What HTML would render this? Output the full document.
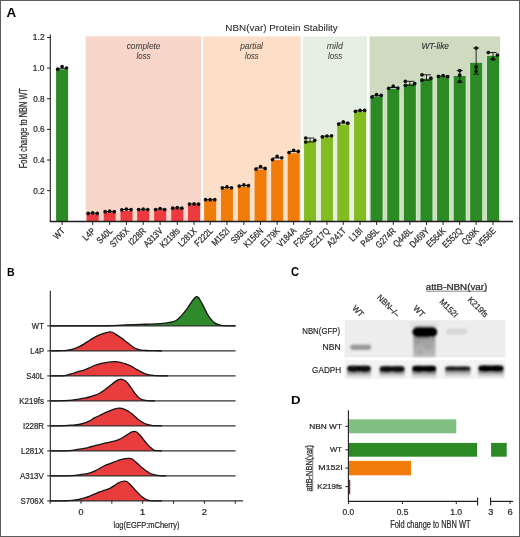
<!DOCTYPE html>
<html><head><meta charset="utf-8"><style>
html,body{margin:0;padding:0;background:#fff;}
svg{display:block;will-change:transform;font-family:"Liberation Sans", sans-serif;}
</style></head><body>
<svg width="520" height="537" viewBox="0 0 520 537">
<defs>
<filter id="blur1" x="-20%" y="-50%" width="140%" height="200%"><feGaussianBlur stdDeviation="0.8"/></filter>
<linearGradient id="smear" x1="0" y1="0" x2="0" y2="1"><stop offset="0" stop-color="#939393"/><stop offset="0.4" stop-color="#a8a8a8"/><stop offset="1" stop-color="#bababa"/></linearGradient>
<linearGradient id="tail" x1="0" y1="0" x2="0" y2="1"><stop offset="0" stop-color="#666"/><stop offset="0.5" stop-color="#bdbdbd"/><stop offset="1" stop-color="#eeeeee"/></linearGradient>
</defs>
<rect x="0" y="0" width="520" height="537" fill="#fff"/>
<rect x="85.6" y="36.4" width="115.55" height="184.9" fill="#f8d6ca" />
<rect x="203.1" y="36.4" width="97.65" height="184.9" fill="#fcdfc6" />
<rect x="302.95" y="36.4" width="64.2" height="184.9" fill="#e5f0e2" />
<rect x="369.5" y="36.4" width="130.6" height="184.9" fill="#cfdbc1" />
<text x="126.63" y="48.6" font-size="8.4" fill="#3c3c3c" stroke="#3c3c3c" stroke-width="0.05" font-style="italic" textLength="33.88" lengthAdjust="spacingAndGlyphs" >complete</text>
<text x="136.57" y="58.6" font-size="8.4" fill="#3c3c3c" stroke="#3c3c3c" stroke-width="0.05" font-style="italic" textLength="14.09" lengthAdjust="spacingAndGlyphs" >loss</text>
<text x="240.21" y="48.5" font-size="8.4" fill="#3c3c3c" stroke="#3c3c3c" stroke-width="0.05" font-style="italic" textLength="22.71" lengthAdjust="spacingAndGlyphs" >partial</text>
<text x="245.08" y="58.5" font-size="8.4" fill="#3c3c3c" stroke="#3c3c3c" stroke-width="0.05" font-style="italic" textLength="13.58" lengthAdjust="spacingAndGlyphs" >loss</text>
<text x="326.75" y="48.7" font-size="8.4" fill="#3c3c3c" stroke="#3c3c3c" stroke-width="0.05" font-style="italic" textLength="16.11" lengthAdjust="spacingAndGlyphs" >mild</text>
<text x="327.97" y="58.7" font-size="8.4" fill="#3c3c3c" stroke="#3c3c3c" stroke-width="0.05" font-style="italic" textLength="14.4" lengthAdjust="spacingAndGlyphs" >loss</text>
<text x="421.5" y="48.5" font-size="8.4" fill="#2a2a2a" stroke="#2a2a2a" stroke-width="0.1" font-style="italic" textLength="27.5" lengthAdjust="spacingAndGlyphs" >WT-like</text>
<text x="225.39" y="30.6" font-size="9.7" fill="#1e1e1e" stroke="#1e1e1e" stroke-width="0.05" textLength="112.43" lengthAdjust="spacingAndGlyphs" >NBN(var) Protein Stability</text>
<rect x="56.1" y="69.5" width="12" height="151.8" fill="#2b8a24" />
<rect x="85.6" y="215.8" width="14.2" height="5.5" fill="#fbd4cd" />
<rect x="102.6" y="213.9" width="14.2" height="7.4" fill="#fbd4cd" />
<rect x="119.35" y="212.5" width="14.2" height="8.8" fill="#fbd4cd" />
<rect x="136.1" y="211.9" width="14.2" height="9.4" fill="#fbd4cd" />
<rect x="153.05" y="211.6" width="14.2" height="9.7" fill="#fbd4cd" />
<rect x="170.15" y="210.4" width="14.2" height="10.9" fill="#fbd4cd" />
<rect x="186.95" y="206.4" width="14.2" height="14.9" fill="#fbd4cd" />
<rect x="203.1" y="201.9" width="14.2" height="19.4" fill="#fee6cf" />
<rect x="219.85" y="190.1" width="14.2" height="31.2" fill="#fee6cf" />
<rect x="236.75" y="188.2" width="14.2" height="33.1" fill="#fee6cf" />
<rect x="253.45" y="171.1" width="14.2" height="50.2" fill="#fee6cf" />
<rect x="270.05" y="161.6" width="14.2" height="59.7" fill="#fee6cf" />
<rect x="286.55" y="154.7" width="14.2" height="66.6" fill="#fee6cf" />
<rect x="302.95" y="142.2" width="14.2" height="79.1" fill="#eaf3dc" />
<rect x="319.85" y="138.8" width="14.2" height="82.5" fill="#eaf3dc" />
<rect x="336.15" y="126" width="14.2" height="95.3" fill="#eaf3dc" />
<rect x="352.95" y="113.2" width="14.2" height="108.1" fill="#eaf3dc" />
<rect x="369.5" y="98.3" width="14.2" height="123" fill="#d3e8cb" />
<rect x="386.15" y="90.4" width="14.2" height="130.9" fill="#d3e8cb" />
<rect x="402.76" y="85.7" width="14.2" height="135.6" fill="#d3e8cb" />
<rect x="419.37" y="80.3" width="14.2" height="141" fill="#d3e8cb" />
<rect x="435.98" y="78.5" width="14.2" height="142.8" fill="#d3e8cb" />
<rect x="452.6" y="77.5" width="14.2" height="143.8" fill="#d3e8cb" />
<rect x="469.05" y="64.3" width="14.2" height="157" fill="#d3e8cb" />
<rect x="485.9" y="57.4" width="14.2" height="163.9" fill="#d3e8cb" />
<rect x="86.7" y="214.3" width="12" height="7" fill="#ec3a3e" />
<rect x="103.7" y="212.4" width="12" height="8.9" fill="#ec3a3e" />
<rect x="120.45" y="211" width="12" height="10.3" fill="#ec3a3e" />
<rect x="137.2" y="210.4" width="12" height="10.9" fill="#ec3a3e" />
<rect x="154.15" y="210.1" width="12" height="11.2" fill="#ec3a3e" />
<rect x="171.25" y="208.9" width="12" height="12.4" fill="#ec3a3e" />
<rect x="188.05" y="204.9" width="12" height="16.4" fill="#ec3a3e" />
<rect x="204.2" y="200.4" width="12" height="20.9" fill="#f17c0a" />
<rect x="220.95" y="188.6" width="12" height="32.7" fill="#f17c0a" />
<rect x="237.85" y="186.7" width="12" height="34.6" fill="#f17c0a" />
<rect x="254.55" y="169.6" width="12" height="51.7" fill="#f17c0a" />
<rect x="271.15" y="160.1" width="12" height="61.2" fill="#f17c0a" />
<rect x="287.65" y="153.2" width="12" height="68.1" fill="#f17c0a" />
<rect x="304.05" y="140.7" width="12" height="80.6" fill="#85bb22" />
<rect x="320.95" y="137.3" width="12" height="84" fill="#85bb22" />
<rect x="337.25" y="124.5" width="12" height="96.8" fill="#85bb22" />
<rect x="354.05" y="111.7" width="12" height="109.6" fill="#85bb22" />
<rect x="370.6" y="96.8" width="12" height="124.5" fill="#2b8a24" />
<rect x="387.25" y="88.9" width="12" height="132.4" fill="#2b8a24" />
<rect x="403.86" y="84.2" width="12" height="137.1" fill="#2b8a24" />
<rect x="420.47" y="78.8" width="12" height="142.5" fill="#2b8a24" />
<rect x="437.08" y="77" width="12" height="144.3" fill="#2b8a24" />
<rect x="453.7" y="76" width="12" height="145.3" fill="#2b8a24" />
<rect x="470.15" y="62.8" width="12" height="158.5" fill="#2b8a24" />
<rect x="487" y="55.9" width="12" height="165.4" fill="#2b8a24" />
<line x1="57.7" y1="68.7" x2="66.5" y2="68.7" stroke="#111" stroke-width="1" />
<circle cx="57.7" cy="69.2" r="1.85" fill="#111"/>
<circle cx="62.1" cy="66.5" r="1.85" fill="#111"/>
<circle cx="66.5" cy="68" r="1.85" fill="#111"/>
<line x1="88.1" y1="213.23" x2="97.3" y2="213.23" stroke="#111" stroke-width="1" />
<circle cx="88.1" cy="213.4" r="1.85" fill="#111"/>
<circle cx="92.7" cy="212.9" r="1.85" fill="#111"/>
<circle cx="97.3" cy="213.4" r="1.85" fill="#111"/>
<line x1="105.1" y1="211.53" x2="114.3" y2="211.53" stroke="#111" stroke-width="1" />
<circle cx="105.1" cy="211.7" r="1.85" fill="#111"/>
<circle cx="109.7" cy="211.2" r="1.85" fill="#111"/>
<circle cx="114.3" cy="211.7" r="1.85" fill="#111"/>
<line x1="121.85" y1="209.5" x2="131.05" y2="209.5" stroke="#111" stroke-width="1" />
<circle cx="121.85" cy="209.8" r="1.85" fill="#111"/>
<circle cx="126.45" cy="209.1" r="1.85" fill="#111"/>
<circle cx="131.05" cy="209.6" r="1.85" fill="#111"/>
<line x1="138.6" y1="209.4" x2="147.8" y2="209.4" stroke="#111" stroke-width="1" />
<circle cx="138.6" cy="209.5" r="1.85" fill="#111"/>
<circle cx="143.2" cy="209.2" r="1.85" fill="#111"/>
<circle cx="147.8" cy="209.5" r="1.85" fill="#111"/>
<line x1="155.55" y1="209.17" x2="164.75" y2="209.17" stroke="#111" stroke-width="1" />
<circle cx="155.55" cy="209.5" r="1.85" fill="#111"/>
<circle cx="160.15" cy="208.5" r="1.85" fill="#111"/>
<circle cx="164.75" cy="209.5" r="1.85" fill="#111"/>
<line x1="172.65" y1="208.03" x2="181.85" y2="208.03" stroke="#111" stroke-width="1" />
<circle cx="172.65" cy="208.2" r="1.85" fill="#111"/>
<circle cx="177.25" cy="207.7" r="1.85" fill="#111"/>
<circle cx="181.85" cy="208.2" r="1.85" fill="#111"/>
<line x1="189.45" y1="204.03" x2="198.65" y2="204.03" stroke="#111" stroke-width="1" />
<circle cx="189.45" cy="204.1" r="1.85" fill="#111"/>
<circle cx="194.05" cy="203.9" r="1.85" fill="#111"/>
<circle cx="198.65" cy="204.1" r="1.85" fill="#111"/>
<line x1="205.6" y1="199.7" x2="214.8" y2="199.7" stroke="#111" stroke-width="1" />
<circle cx="205.6" cy="199.7" r="1.85" fill="#111"/>
<circle cx="210.2" cy="199.7" r="1.85" fill="#111"/>
<circle cx="214.8" cy="199.7" r="1.85" fill="#111"/>
<line x1="222.35" y1="187.5" x2="231.55" y2="187.5" stroke="#111" stroke-width="1" />
<circle cx="222.35" cy="187.8" r="1.85" fill="#111"/>
<circle cx="226.95" cy="186.9" r="1.85" fill="#111"/>
<circle cx="231.55" cy="187.8" r="1.85" fill="#111"/>
<line x1="239.25" y1="185.53" x2="248.45" y2="185.53" stroke="#111" stroke-width="1" />
<circle cx="239.25" cy="186.1" r="1.85" fill="#111"/>
<circle cx="243.85" cy="184.9" r="1.85" fill="#111"/>
<circle cx="248.45" cy="185.6" r="1.85" fill="#111"/>
<line x1="255.95" y1="168" x2="265.15" y2="168" stroke="#111" stroke-width="1" />
<circle cx="255.95" cy="169.1" r="1.85" fill="#111"/>
<circle cx="260.55" cy="166.5" r="1.85" fill="#111"/>
<circle cx="265.15" cy="168.4" r="1.85" fill="#111"/>
<line x1="272.55" y1="157.93" x2="281.75" y2="157.93" stroke="#111" stroke-width="1" />
<circle cx="272.55" cy="159.6" r="1.85" fill="#111"/>
<circle cx="277.15" cy="156.4" r="1.85" fill="#111"/>
<circle cx="281.75" cy="157.8" r="1.85" fill="#111"/>
<line x1="289.05" y1="151.43" x2="298.25" y2="151.43" stroke="#111" stroke-width="1" />
<circle cx="289.05" cy="152.5" r="1.85" fill="#111"/>
<circle cx="293.65" cy="150.4" r="1.85" fill="#111"/>
<circle cx="298.25" cy="151.4" r="1.85" fill="#111"/>
<line x1="305.75" y1="138" x2="314.35" y2="138" stroke="#111" stroke-width="0.9" />
<line x1="305.75" y1="142" x2="314.35" y2="142" stroke="#111" stroke-width="0.9" />
<line x1="310.05" y1="138" x2="310.05" y2="142" stroke="#111" stroke-width="0.9" />
<circle cx="305.75" cy="138" r="1.85" fill="#111"/>
<circle cx="305.75" cy="142" r="1.85" fill="#111"/>
<circle cx="314.75" cy="140.3" r="1.85" fill="#111"/>
<line x1="322.35" y1="136.2" x2="331.55" y2="136.2" stroke="#111" stroke-width="1" />
<circle cx="322.35" cy="136.8" r="1.85" fill="#111"/>
<circle cx="326.95" cy="136" r="1.85" fill="#111"/>
<circle cx="331.55" cy="135.8" r="1.85" fill="#111"/>
<line x1="338.65" y1="123.03" x2="347.85" y2="123.03" stroke="#111" stroke-width="1" />
<circle cx="338.65" cy="124.1" r="1.85" fill="#111"/>
<circle cx="343.25" cy="121.8" r="1.85" fill="#111"/>
<circle cx="347.85" cy="123.2" r="1.85" fill="#111"/>
<line x1="355.45" y1="110.7" x2="364.65" y2="110.7" stroke="#111" stroke-width="1" />
<circle cx="355.45" cy="111.3" r="1.85" fill="#111"/>
<circle cx="360.05" cy="110.4" r="1.85" fill="#111"/>
<circle cx="364.65" cy="110.4" r="1.85" fill="#111"/>
<line x1="372" y1="95.7" x2="381.2" y2="95.7" stroke="#111" stroke-width="1" />
<circle cx="372" cy="97" r="1.85" fill="#111"/>
<circle cx="376.6" cy="94.7" r="1.85" fill="#111"/>
<circle cx="381.2" cy="95.4" r="1.85" fill="#111"/>
<line x1="388.65" y1="87.5" x2="397.85" y2="87.5" stroke="#111" stroke-width="1" />
<circle cx="388.65" cy="88.3" r="1.85" fill="#111"/>
<circle cx="393.25" cy="86.2" r="1.85" fill="#111"/>
<circle cx="397.85" cy="88" r="1.85" fill="#111"/>
<line x1="405.36" y1="81.3" x2="414.36" y2="81.3" stroke="#111" stroke-width="0.9" />
<line x1="405.36" y1="85.3" x2="414.36" y2="85.3" stroke="#111" stroke-width="0.9" />
<line x1="409.86" y1="81.3" x2="409.86" y2="85.3" stroke="#111" stroke-width="0.9" />
<circle cx="405.36" cy="81.3" r="1.85" fill="#111"/>
<circle cx="405.36" cy="85.3" r="1.85" fill="#111"/>
<circle cx="414.66" cy="83.6" r="1.85" fill="#111"/>
<line x1="421.97" y1="74.8" x2="430.97" y2="74.8" stroke="#111" stroke-width="0.9" />
<line x1="421.97" y1="80.2" x2="430.97" y2="80.2" stroke="#111" stroke-width="0.9" />
<line x1="426.47" y1="74.8" x2="426.47" y2="80.2" stroke="#111" stroke-width="0.9" />
<circle cx="421.97" cy="74.8" r="1.85" fill="#111"/>
<circle cx="421.97" cy="80.2" r="1.85" fill="#111"/>
<circle cx="430.87" cy="78.2" r="1.85" fill="#111"/>
<line x1="438.48" y1="76.2" x2="447.68" y2="76.2" stroke="#111" stroke-width="1" />
<circle cx="438.48" cy="76.4" r="1.85" fill="#111"/>
<circle cx="443.08" cy="75.5" r="1.85" fill="#111"/>
<circle cx="447.68" cy="76.7" r="1.85" fill="#111"/>
<line x1="459.7" y1="70.6" x2="459.7" y2="82.2" stroke="#111" stroke-width="0.9" />
<line x1="456.7" y1="70.6" x2="462.7" y2="70.6" stroke="#111" stroke-width="0.9" />
<line x1="456.7" y1="82.2" x2="462.7" y2="82.2" stroke="#111" stroke-width="0.9" />
<circle cx="459.7" cy="70.6" r="1.85" fill="#111"/>
<circle cx="459.7" cy="75.2" r="1.85" fill="#111"/>
<circle cx="459.7" cy="81.5" r="1.85" fill="#111"/>
<line x1="476.15" y1="48" x2="476.15" y2="74.1" stroke="#111" stroke-width="0.9" />
<line x1="473.15" y1="48" x2="479.15" y2="48" stroke="#111" stroke-width="0.9" />
<line x1="473.15" y1="74.1" x2="479.15" y2="74.1" stroke="#111" stroke-width="0.9" />
<circle cx="476.15" cy="48" r="1.85" fill="#111"/>
<circle cx="476.15" cy="66.9" r="1.85" fill="#111"/>
<circle cx="476.15" cy="71.2" r="1.85" fill="#111"/>
<line x1="493" y1="52.5" x2="493" y2="59.6" stroke="#111" stroke-width="0.9" />
<line x1="489.5" y1="52.5" x2="496.5" y2="52.5" stroke="#111" stroke-width="0.9" />
<line x1="490" y1="59.6" x2="496" y2="59.6" stroke="#111" stroke-width="0.9" />
<circle cx="488.3" cy="52.5" r="1.85" fill="#111"/>
<circle cx="497.4" cy="55" r="1.85" fill="#111"/>
<circle cx="493" cy="59" r="1.85" fill="#111"/>
<line x1="50.3" y1="34.6" x2="50.3" y2="221.8" stroke="#1e1e1e" stroke-width="1.1" />
<line x1="49.8" y1="221.5" x2="513" y2="221.5" stroke="#1e1e1e" stroke-width="1.4" />
<line x1="47.1" y1="37.46" x2="50.3" y2="37.46" stroke="#1e1e1e" stroke-width="1" />
<text x="32.86" y="40.46" font-size="8.88" fill="#2a2a2a" stroke="#2a2a2a" stroke-width="0.24" textLength="11.77" lengthAdjust="spacingAndGlyphs" >1.2</text>
<line x1="47.1" y1="68.1" x2="50.3" y2="68.1" stroke="#1e1e1e" stroke-width="1" />
<text x="32.86" y="71.1" font-size="8.88" fill="#2a2a2a" stroke="#2a2a2a" stroke-width="0.24" textLength="11.67" lengthAdjust="spacingAndGlyphs" >1.0</text>
<line x1="47.1" y1="98.74" x2="50.3" y2="98.74" stroke="#1e1e1e" stroke-width="1" />
<text x="33.18" y="101.74" font-size="8.88" fill="#2a2a2a" stroke="#2a2a2a" stroke-width="0.24" textLength="11.38" lengthAdjust="spacingAndGlyphs" >0.8</text>
<line x1="47.1" y1="129.38" x2="50.3" y2="129.38" stroke="#1e1e1e" stroke-width="1" />
<text x="33.18" y="132.38" font-size="8.88" fill="#2a2a2a" stroke="#2a2a2a" stroke-width="0.24" textLength="11.38" lengthAdjust="spacingAndGlyphs" >0.6</text>
<line x1="47.1" y1="160.02" x2="50.3" y2="160.02" stroke="#1e1e1e" stroke-width="1" />
<text x="33.18" y="163.02" font-size="8.88" fill="#2a2a2a" stroke="#2a2a2a" stroke-width="0.24" textLength="11.25" lengthAdjust="spacingAndGlyphs" >0.4</text>
<line x1="47.1" y1="190.66" x2="50.3" y2="190.66" stroke="#1e1e1e" stroke-width="1" />
<text x="33.18" y="193.66" font-size="8.88" fill="#2a2a2a" stroke="#2a2a2a" stroke-width="0.24" textLength="11.44" lengthAdjust="spacingAndGlyphs" >0.2</text>
<line x1="62.1" y1="221.3" x2="62.1" y2="224.9" stroke="#1e1e1e" stroke-width="1" />
<text x="0" y="0" font-size="9.2" fill="#2a2a2a" stroke="#2a2a2a" stroke-width="0.24" text-anchor="end" textLength="11.96" lengthAdjust="spacingAndGlyphs" transform="translate(65.4 231.5) rotate(-45)" >WT</text>
<line x1="92.7" y1="221.3" x2="92.7" y2="224.9" stroke="#1e1e1e" stroke-width="1" />
<text x="0" y="0" font-size="9.2" fill="#2a2a2a" stroke="#2a2a2a" stroke-width="0.24" text-anchor="end" textLength="13.69" lengthAdjust="spacingAndGlyphs" transform="translate(96 231.5) rotate(-45)" >L4P</text>
<line x1="109.7" y1="221.3" x2="109.7" y2="224.9" stroke="#1e1e1e" stroke-width="1" />
<text x="0" y="0" font-size="9.2" fill="#2a2a2a" stroke="#2a2a2a" stroke-width="0.24" text-anchor="end" textLength="17.96" lengthAdjust="spacingAndGlyphs" transform="translate(113 231.5) rotate(-45)" >S40L</text>
<line x1="126.45" y1="221.3" x2="126.45" y2="224.9" stroke="#1e1e1e" stroke-width="1" />
<text x="0" y="0" font-size="9.2" fill="#2a2a2a" stroke="#2a2a2a" stroke-width="0.24" text-anchor="end" textLength="23.09" lengthAdjust="spacingAndGlyphs" transform="translate(129.75 231.5) rotate(-45)" >S706X</text>
<line x1="143.2" y1="221.3" x2="143.2" y2="224.9" stroke="#1e1e1e" stroke-width="1" />
<text x="0" y="0" font-size="9.2" fill="#2a2a2a" stroke="#2a2a2a" stroke-width="0.24" text-anchor="end" textLength="20.53" lengthAdjust="spacingAndGlyphs" transform="translate(146.5 231.5) rotate(-45)" >I228R</text>
<line x1="160.15" y1="221.3" x2="160.15" y2="224.9" stroke="#1e1e1e" stroke-width="1" />
<text x="0" y="0" font-size="9.2" fill="#2a2a2a" stroke="#2a2a2a" stroke-width="0.24" text-anchor="end" textLength="23.09" lengthAdjust="spacingAndGlyphs" transform="translate(163.45 231.5) rotate(-45)" >A313V</text>
<line x1="177.25" y1="221.3" x2="177.25" y2="224.9" stroke="#1e1e1e" stroke-width="1" />
<text x="0" y="0" font-size="9.2" fill="#2a2a2a" stroke="#2a2a2a" stroke-width="0.24" text-anchor="end" textLength="23.95" lengthAdjust="spacingAndGlyphs" transform="translate(180.55 231.5) rotate(-45)" >K219fs</text>
<line x1="194.05" y1="221.3" x2="194.05" y2="224.9" stroke="#1e1e1e" stroke-width="1" />
<text x="0" y="0" font-size="9.2" fill="#2a2a2a" stroke="#2a2a2a" stroke-width="0.24" text-anchor="end" textLength="22.24" lengthAdjust="spacingAndGlyphs" transform="translate(197.35 231.5) rotate(-45)" >L281X</text>
<line x1="210.2" y1="221.3" x2="210.2" y2="224.9" stroke="#1e1e1e" stroke-width="1" />
<text x="0" y="0" font-size="9.2" fill="#2a2a2a" stroke="#2a2a2a" stroke-width="0.24" text-anchor="end" textLength="21.81" lengthAdjust="spacingAndGlyphs" transform="translate(213.5 231.5) rotate(-45)" >F222L</text>
<line x1="226.95" y1="221.3" x2="226.95" y2="224.9" stroke="#1e1e1e" stroke-width="1" />
<text x="0" y="0" font-size="9.2" fill="#2a2a2a" stroke="#2a2a2a" stroke-width="0.24" text-anchor="end" textLength="21.38" lengthAdjust="spacingAndGlyphs" transform="translate(230.25 231.5) rotate(-45)" >M152I</text>
<line x1="243.85" y1="221.3" x2="243.85" y2="224.9" stroke="#1e1e1e" stroke-width="1" />
<text x="0" y="0" font-size="9.2" fill="#2a2a2a" stroke="#2a2a2a" stroke-width="0.24" text-anchor="end" textLength="17.96" lengthAdjust="spacingAndGlyphs" transform="translate(247.15 231.5) rotate(-45)" >S93L</text>
<line x1="260.55" y1="221.3" x2="260.55" y2="224.9" stroke="#1e1e1e" stroke-width="1" />
<text x="0" y="0" font-size="9.2" fill="#2a2a2a" stroke="#2a2a2a" stroke-width="0.24" text-anchor="end" textLength="23.52" lengthAdjust="spacingAndGlyphs" transform="translate(263.85 231.5) rotate(-45)" >K156N</text>
<line x1="277.15" y1="221.3" x2="277.15" y2="224.9" stroke="#1e1e1e" stroke-width="1" />
<text x="0" y="0" font-size="9.2" fill="#2a2a2a" stroke="#2a2a2a" stroke-width="0.24" text-anchor="end" textLength="23.09" lengthAdjust="spacingAndGlyphs" transform="translate(280.45 231.5) rotate(-45)" >E179K</text>
<line x1="293.65" y1="221.3" x2="293.65" y2="224.9" stroke="#1e1e1e" stroke-width="1" />
<text x="0" y="0" font-size="9.2" fill="#2a2a2a" stroke="#2a2a2a" stroke-width="0.24" text-anchor="end" textLength="23.09" lengthAdjust="spacingAndGlyphs" transform="translate(296.95 231.5) rotate(-45)" >V184A</text>
<line x1="310.05" y1="221.3" x2="310.05" y2="224.9" stroke="#1e1e1e" stroke-width="1" />
<text x="0" y="0" font-size="9.2" fill="#2a2a2a" stroke="#2a2a2a" stroke-width="0.24" text-anchor="end" textLength="22.66" lengthAdjust="spacingAndGlyphs" transform="translate(313.35 231.5) rotate(-45)" >F263S</text>
<line x1="326.95" y1="221.3" x2="326.95" y2="224.9" stroke="#1e1e1e" stroke-width="1" />
<text x="0" y="0" font-size="9.2" fill="#2a2a2a" stroke="#2a2a2a" stroke-width="0.24" text-anchor="end" textLength="23.95" lengthAdjust="spacingAndGlyphs" transform="translate(330.25 231.5) rotate(-45)" >E217Q</text>
<line x1="343.25" y1="221.3" x2="343.25" y2="224.9" stroke="#1e1e1e" stroke-width="1" />
<text x="0" y="0" font-size="9.2" fill="#2a2a2a" stroke="#2a2a2a" stroke-width="0.24" text-anchor="end" textLength="22.66" lengthAdjust="spacingAndGlyphs" transform="translate(346.55 231.5) rotate(-45)" >A241T</text>
<line x1="360.05" y1="221.3" x2="360.05" y2="224.9" stroke="#1e1e1e" stroke-width="1" />
<text x="0" y="0" font-size="9.2" fill="#2a2a2a" stroke="#2a2a2a" stroke-width="0.24" text-anchor="end" textLength="14.97" lengthAdjust="spacingAndGlyphs" transform="translate(363.35 231.5) rotate(-45)" >L18I</text>
<line x1="376.6" y1="221.3" x2="376.6" y2="224.9" stroke="#1e1e1e" stroke-width="1" />
<text x="0" y="0" font-size="9.2" fill="#2a2a2a" stroke="#2a2a2a" stroke-width="0.24" text-anchor="end" textLength="22.24" lengthAdjust="spacingAndGlyphs" transform="translate(379.9 231.5) rotate(-45)" >P495L</text>
<line x1="393.25" y1="221.3" x2="393.25" y2="224.9" stroke="#1e1e1e" stroke-width="1" />
<text x="0" y="0" font-size="9.2" fill="#2a2a2a" stroke="#2a2a2a" stroke-width="0.24" text-anchor="end" textLength="24.37" lengthAdjust="spacingAndGlyphs" transform="translate(396.55 231.5) rotate(-45)" >G274R</text>
<line x1="409.86" y1="221.3" x2="409.86" y2="224.9" stroke="#1e1e1e" stroke-width="1" />
<text x="0" y="0" font-size="9.2" fill="#2a2a2a" stroke="#2a2a2a" stroke-width="0.24" text-anchor="end" textLength="23.09" lengthAdjust="spacingAndGlyphs" transform="translate(413.16 231.5) rotate(-45)" >Q448L</text>
<line x1="426.47" y1="221.3" x2="426.47" y2="224.9" stroke="#1e1e1e" stroke-width="1" />
<text x="0" y="0" font-size="9.2" fill="#2a2a2a" stroke="#2a2a2a" stroke-width="0.24" text-anchor="end" textLength="23.52" lengthAdjust="spacingAndGlyphs" transform="translate(429.77 231.5) rotate(-45)" >D469Y</text>
<line x1="443.08" y1="221.3" x2="443.08" y2="224.9" stroke="#1e1e1e" stroke-width="1" />
<text x="0" y="0" font-size="9.2" fill="#2a2a2a" stroke="#2a2a2a" stroke-width="0.24" text-anchor="end" textLength="23.09" lengthAdjust="spacingAndGlyphs" transform="translate(446.38 231.5) rotate(-45)" >E564K</text>
<line x1="459.7" y1="221.3" x2="459.7" y2="224.9" stroke="#1e1e1e" stroke-width="1" />
<text x="0" y="0" font-size="9.2" fill="#2a2a2a" stroke="#2a2a2a" stroke-width="0.24" text-anchor="end" textLength="23.95" lengthAdjust="spacingAndGlyphs" transform="translate(463 231.5) rotate(-45)" >E552Q</text>
<line x1="476.15" y1="221.3" x2="476.15" y2="224.9" stroke="#1e1e1e" stroke-width="1" />
<text x="0" y="0" font-size="9.2" fill="#2a2a2a" stroke="#2a2a2a" stroke-width="0.24" text-anchor="end" textLength="19.67" lengthAdjust="spacingAndGlyphs" transform="translate(479.45 231.5) rotate(-45)" >Q39K</text>
<line x1="493" y1="221.3" x2="493" y2="224.9" stroke="#1e1e1e" stroke-width="1" />
<text x="0" y="0" font-size="9.2" fill="#2a2a2a" stroke="#2a2a2a" stroke-width="0.24" text-anchor="end" textLength="23.09" lengthAdjust="spacingAndGlyphs" transform="translate(496.3 231.5) rotate(-45)" >V556E</text>
<text x="-0.61" y="0" font-size="10.3" fill="#2a2a2a" stroke="#2a2a2a" stroke-width="0.24" textLength="80.08" lengthAdjust="spacingAndGlyphs" transform="translate(27.2 167.6) rotate(-90)" >Fold change to NBN WT</text>
<text x="6.47" y="16.7" font-size="12.5" fill="#000" font-weight="bold" textLength="9.69" lengthAdjust="spacingAndGlyphs" >A</text>
<text x="7.09" y="275.5" font-size="11.19" fill="#000" font-weight="bold" textLength="7.7" lengthAdjust="spacingAndGlyphs" >B</text>
<text x="291.04" y="275.6" font-size="11.92" fill="#000" font-weight="bold" textLength="8.06" lengthAdjust="spacingAndGlyphs" >C</text>
<text x="291.02" y="403.5" font-size="11.77" fill="#000" font-weight="bold" textLength="9.54" lengthAdjust="spacingAndGlyphs" >D</text>
<path d="M50.3,325.9 C58.58,325.88 90.05,325.84 100,325.8 C109.95,325.76 105.83,325.8 110,325.65 C114.17,325.5 120,325.11 125,324.9 C130,324.69 135,324.57 140,324.4 C145,324.23 150.83,324.11 155,323.9 C159.17,323.69 162.08,323.48 165,323.15 C167.92,322.82 170.42,322.52 172.5,321.9 C174.58,321.27 175.83,320.65 177.5,319.4 C179.17,318.15 180.83,316.27 182.5,314.4 C184.17,312.52 185.83,310.44 187.5,308.15 C189.17,305.86 191.02,302.56 192.5,300.65 C193.98,298.74 195.33,297.12 196.4,296.7 C197.47,296.27 197.88,296.82 198.9,298.1 C199.92,299.38 201.28,302.1 202.5,304.4 C203.72,306.7 205,309.61 206.25,311.9 C207.5,314.19 208.54,316.27 210,318.15 C211.46,320.02 213.33,321.98 215,323.15 C216.67,324.32 217.92,324.69 220,325.15 C222.08,325.61 224.9,325.77 227.5,325.9 C230.1,326.02 234.25,325.9 235.6,325.9 L235.6,325.9 L50.3,325.9 Z" fill="#2e8a2a"/>
<line x1="50.3" y1="325.9" x2="235.6" y2="325.9" stroke="#333" stroke-width="1.1" />
<path d="M50.3,325.9 C58.58,325.88 90.05,325.84 100,325.8 C109.95,325.76 105.83,325.8 110,325.65 C114.17,325.5 120,325.11 125,324.9 C130,324.69 135,324.57 140,324.4 C145,324.23 150.83,324.11 155,323.9 C159.17,323.69 162.08,323.48 165,323.15 C167.92,322.82 170.42,322.52 172.5,321.9 C174.58,321.27 175.83,320.65 177.5,319.4 C179.17,318.15 180.83,316.27 182.5,314.4 C184.17,312.52 185.83,310.44 187.5,308.15 C189.17,305.86 191.02,302.56 192.5,300.65 C193.98,298.74 195.33,297.12 196.4,296.7 C197.47,296.27 197.88,296.82 198.9,298.1 C199.92,299.38 201.28,302.1 202.5,304.4 C203.72,306.7 205,309.61 206.25,311.9 C207.5,314.19 208.54,316.27 210,318.15 C211.46,320.02 213.33,321.98 215,323.15 C216.67,324.32 217.92,324.69 220,325.15 C222.08,325.61 224.9,325.77 227.5,325.9 C230.1,326.02 234.25,325.9 235.6,325.9" fill="none" stroke="#151515" stroke-width="1.3"/>
<line x1="47.2" y1="325.9" x2="50.3" y2="325.9" stroke="#1e1e1e" stroke-width="1" />
<text x="31.87" y="329" font-size="9.01" fill="#2a2a2a" stroke="#2a2a2a" stroke-width="0.24" textLength="12.01" lengthAdjust="spacingAndGlyphs" >WT</text>
<path d="M50.3,350.9 C51.58,350.88 55.55,350.81 58,350.75 C60.45,350.69 62.68,350.76 65,350.55 C67.32,350.34 69.6,350.11 71.9,349.5 C74.2,348.89 76.78,347.82 78.8,346.9 C80.82,345.98 82.27,345.07 84,344 C85.73,342.93 87.47,341.6 89.2,340.5 C90.93,339.4 92.67,338.35 94.4,337.4 C96.13,336.45 97.87,335.52 99.6,334.8 C101.33,334.08 102.93,333.58 104.8,333.1 C106.67,332.62 109.07,331.77 110.8,331.9 C112.53,332.03 113.6,332.98 115.2,333.9 C116.8,334.82 118.67,336.18 120.4,337.4 C122.13,338.62 123.88,339.9 125.6,341.2 C127.32,342.5 128.98,343.96 130.7,345.2 C132.42,346.44 134.17,347.84 135.9,348.65 C137.63,349.46 139.08,349.73 141.1,350.05 C143.12,350.37 145.68,350.44 148,350.55 C150.32,350.66 152.67,350.64 155,350.7 C157.33,350.76 160.83,350.87 162,350.9 L162,350.9 L50.3,350.9 Z" fill="#e93c3c"/>
<line x1="50.3" y1="350.9" x2="235.6" y2="350.9" stroke="#333" stroke-width="1.1" />
<path d="M50.3,350.9 C51.58,350.88 55.55,350.81 58,350.75 C60.45,350.69 62.68,350.76 65,350.55 C67.32,350.34 69.6,350.11 71.9,349.5 C74.2,348.89 76.78,347.82 78.8,346.9 C80.82,345.98 82.27,345.07 84,344 C85.73,342.93 87.47,341.6 89.2,340.5 C90.93,339.4 92.67,338.35 94.4,337.4 C96.13,336.45 97.87,335.52 99.6,334.8 C101.33,334.08 102.93,333.58 104.8,333.1 C106.67,332.62 109.07,331.77 110.8,331.9 C112.53,332.03 113.6,332.98 115.2,333.9 C116.8,334.82 118.67,336.18 120.4,337.4 C122.13,338.62 123.88,339.9 125.6,341.2 C127.32,342.5 128.98,343.96 130.7,345.2 C132.42,346.44 134.17,347.84 135.9,348.65 C137.63,349.46 139.08,349.73 141.1,350.05 C143.12,350.37 145.68,350.44 148,350.55 C150.32,350.66 152.67,350.64 155,350.7 C157.33,350.76 160.83,350.87 162,350.9" fill="none" stroke="#151515" stroke-width="1.3"/>
<line x1="47.2" y1="350.9" x2="50.3" y2="350.9" stroke="#1e1e1e" stroke-width="1" />
<text x="30.37" y="354" font-size="9.01" fill="#2a2a2a" stroke="#2a2a2a" stroke-width="0.24" textLength="13.74" lengthAdjust="spacingAndGlyphs" >L4P</text>
<path d="M50.3,375.9 C51.58,375.88 55.55,375.86 58,375.8 C60.45,375.74 62.68,375.91 65,375.55 C67.32,375.19 69.6,374.34 71.9,373.65 C74.2,372.96 76.78,371.97 78.8,371.4 C80.82,370.82 82.27,370.78 84,370.2 C85.73,369.62 87.47,368.68 89.2,367.9 C90.93,367.12 92.67,366.18 94.4,365.5 C96.13,364.82 97.87,364.25 99.6,363.8 C101.33,363.35 102.93,363.12 104.8,362.8 C106.67,362.48 109.07,362.08 110.8,361.9 C112.53,361.72 113.6,361.62 115.2,361.7 C116.8,361.78 118.67,362.05 120.4,362.4 C122.13,362.75 123.88,363.22 125.6,363.8 C127.32,364.38 128.98,365.03 130.7,365.9 C132.42,366.77 134.17,368 135.9,369 C137.63,370 139.37,371.03 141.1,371.9 C142.83,372.77 144.57,373.65 146.3,374.2 C148.03,374.75 150.05,374.98 151.5,375.2 C152.95,375.42 153.25,375.45 155,375.55 C156.75,375.65 159.83,375.74 162,375.8 C164.17,375.86 167,375.88 168,375.9 L168,375.9 L50.3,375.9 Z" fill="#e93c3c"/>
<line x1="50.3" y1="375.9" x2="235.6" y2="375.9" stroke="#333" stroke-width="1.1" />
<path d="M50.3,375.9 C51.58,375.88 55.55,375.86 58,375.8 C60.45,375.74 62.68,375.91 65,375.55 C67.32,375.19 69.6,374.34 71.9,373.65 C74.2,372.96 76.78,371.97 78.8,371.4 C80.82,370.82 82.27,370.78 84,370.2 C85.73,369.62 87.47,368.68 89.2,367.9 C90.93,367.12 92.67,366.18 94.4,365.5 C96.13,364.82 97.87,364.25 99.6,363.8 C101.33,363.35 102.93,363.12 104.8,362.8 C106.67,362.48 109.07,362.08 110.8,361.9 C112.53,361.72 113.6,361.62 115.2,361.7 C116.8,361.78 118.67,362.05 120.4,362.4 C122.13,362.75 123.88,363.22 125.6,363.8 C127.32,364.38 128.98,365.03 130.7,365.9 C132.42,366.77 134.17,368 135.9,369 C137.63,370 139.37,371.03 141.1,371.9 C142.83,372.77 144.57,373.65 146.3,374.2 C148.03,374.75 150.05,374.98 151.5,375.2 C152.95,375.42 153.25,375.45 155,375.55 C156.75,375.65 159.83,375.74 162,375.8 C164.17,375.86 167,375.88 168,375.9" fill="none" stroke="#151515" stroke-width="1.3"/>
<line x1="47.2" y1="375.9" x2="50.3" y2="375.9" stroke="#1e1e1e" stroke-width="1" />
<text x="26.36" y="379" font-size="9.01" fill="#2a2a2a" stroke="#2a2a2a" stroke-width="0.24" textLength="17.59" lengthAdjust="spacingAndGlyphs" >S40L</text>
<path d="M50.3,400.9 C51.58,400.88 55.55,400.85 58,400.8 C60.45,400.75 62.68,400.72 65,400.6 C67.32,400.48 69.6,400.33 71.9,400.1 C74.2,399.87 76.78,399.52 78.8,399.2 C80.82,398.88 82.27,398.57 84,398.2 C85.73,397.83 87.47,397.47 89.2,397 C90.93,396.53 92.67,396.03 94.4,395.4 C96.13,394.77 97.87,394.15 99.6,393.2 C101.33,392.25 102.93,391.05 104.8,389.7 C106.67,388.35 109.07,386.45 110.8,385.1 C112.53,383.75 113.9,382.5 115.2,381.6 C116.5,380.7 117.48,380.08 118.6,379.7 C119.72,379.32 120.73,379.07 121.9,379.3 C123.07,379.53 124.47,380.23 125.6,381.1 C126.73,381.97 127.65,383.2 128.7,384.5 C129.75,385.8 130.82,387.37 131.9,388.9 C132.98,390.43 134.08,392.27 135.2,393.7 C136.32,395.13 137.48,396.52 138.6,397.5 C139.72,398.48 140.5,399.08 141.9,399.6 C143.3,400.12 144.82,400.38 147,400.6 C149.18,400.82 153.67,400.85 155,400.9 L155,400.9 L50.3,400.9 Z" fill="#e93c3c"/>
<line x1="50.3" y1="400.9" x2="235.6" y2="400.9" stroke="#333" stroke-width="1.1" />
<path d="M50.3,400.9 C51.58,400.88 55.55,400.85 58,400.8 C60.45,400.75 62.68,400.72 65,400.6 C67.32,400.48 69.6,400.33 71.9,400.1 C74.2,399.87 76.78,399.52 78.8,399.2 C80.82,398.88 82.27,398.57 84,398.2 C85.73,397.83 87.47,397.47 89.2,397 C90.93,396.53 92.67,396.03 94.4,395.4 C96.13,394.77 97.87,394.15 99.6,393.2 C101.33,392.25 102.93,391.05 104.8,389.7 C106.67,388.35 109.07,386.45 110.8,385.1 C112.53,383.75 113.9,382.5 115.2,381.6 C116.5,380.7 117.48,380.08 118.6,379.7 C119.72,379.32 120.73,379.07 121.9,379.3 C123.07,379.53 124.47,380.23 125.6,381.1 C126.73,381.97 127.65,383.2 128.7,384.5 C129.75,385.8 130.82,387.37 131.9,388.9 C132.98,390.43 134.08,392.27 135.2,393.7 C136.32,395.13 137.48,396.52 138.6,397.5 C139.72,398.48 140.5,399.08 141.9,399.6 C143.3,400.12 144.82,400.38 147,400.6 C149.18,400.82 153.67,400.85 155,400.9" fill="none" stroke="#151515" stroke-width="1.3"/>
<line x1="47.2" y1="400.9" x2="50.3" y2="400.9" stroke="#1e1e1e" stroke-width="1" />
<text x="19.35" y="404" font-size="9.01" fill="#2a2a2a" stroke="#2a2a2a" stroke-width="0.24" textLength="24.64" lengthAdjust="spacingAndGlyphs" >K219fs</text>
<path d="M50.3,425.9 C51.58,425.89 55.55,425.88 58,425.85 C60.45,425.82 62.68,425.81 65,425.7 C67.32,425.59 69.6,425.4 71.9,425.2 C74.2,425 76.78,424.85 78.8,424.5 C80.82,424.15 82.27,423.67 84,423.1 C85.73,422.53 87.47,421.97 89.2,421.1 C90.93,420.23 92.67,418.83 94.4,417.9 C96.13,416.97 97.87,416.35 99.6,415.5 C101.33,414.65 102.93,413.67 104.8,412.8 C106.67,411.93 109.07,410.95 110.8,410.3 C112.53,409.65 113.9,409.27 115.2,408.9 C116.5,408.53 117.48,408.2 118.6,408.1 C119.72,408 120.73,408.02 121.9,408.3 C123.07,408.58 124.47,409.27 125.6,409.8 C126.73,410.33 127.65,410.83 128.7,411.5 C129.75,412.17 130.82,412.93 131.9,413.8 C132.98,414.67 134.08,415.72 135.2,416.7 C136.32,417.68 137.48,418.83 138.6,419.7 C139.72,420.57 140.62,421.15 141.9,421.9 C143.18,422.65 144.7,423.62 146.3,424.2 C147.9,424.78 150.05,425.15 151.5,425.4 C152.95,425.65 153.25,425.62 155,425.7 C156.75,425.78 160.83,425.87 162,425.9 L162,425.9 L50.3,425.9 Z" fill="#e93c3c"/>
<line x1="50.3" y1="425.9" x2="235.6" y2="425.9" stroke="#333" stroke-width="1.1" />
<path d="M50.3,425.9 C51.58,425.89 55.55,425.88 58,425.85 C60.45,425.82 62.68,425.81 65,425.7 C67.32,425.59 69.6,425.4 71.9,425.2 C74.2,425 76.78,424.85 78.8,424.5 C80.82,424.15 82.27,423.67 84,423.1 C85.73,422.53 87.47,421.97 89.2,421.1 C90.93,420.23 92.67,418.83 94.4,417.9 C96.13,416.97 97.87,416.35 99.6,415.5 C101.33,414.65 102.93,413.67 104.8,412.8 C106.67,411.93 109.07,410.95 110.8,410.3 C112.53,409.65 113.9,409.27 115.2,408.9 C116.5,408.53 117.48,408.2 118.6,408.1 C119.72,408 120.73,408.02 121.9,408.3 C123.07,408.58 124.47,409.27 125.6,409.8 C126.73,410.33 127.65,410.83 128.7,411.5 C129.75,412.17 130.82,412.93 131.9,413.8 C132.98,414.67 134.08,415.72 135.2,416.7 C136.32,417.68 137.48,418.83 138.6,419.7 C139.72,420.57 140.62,421.15 141.9,421.9 C143.18,422.65 144.7,423.62 146.3,424.2 C147.9,424.78 150.05,425.15 151.5,425.4 C152.95,425.65 153.25,425.62 155,425.7 C156.75,425.78 160.83,425.87 162,425.9" fill="none" stroke="#151515" stroke-width="1.3"/>
<line x1="47.2" y1="425.9" x2="50.3" y2="425.9" stroke="#1e1e1e" stroke-width="1" />
<text x="23.07" y="429" font-size="9.01" fill="#2a2a2a" stroke="#2a2a2a" stroke-width="0.24" textLength="20.99" lengthAdjust="spacingAndGlyphs" >I228R</text>
<path d="M50.3,450.9 C52.75,450.88 61.4,450.87 65,450.8 C68.6,450.72 69.6,450.72 71.9,450.45 C74.2,450.18 76.78,449.54 78.8,449.2 C80.82,448.86 82.27,448.73 84,448.4 C85.73,448.07 87.47,447.63 89.2,447.2 C90.93,446.77 92.67,446.23 94.4,445.8 C96.13,445.37 97.87,445.03 99.6,444.6 C101.33,444.17 102.93,443.67 104.8,443.2 C106.67,442.73 109.07,442.18 110.8,441.8 C112.53,441.42 113.9,441.25 115.2,440.9 C116.5,440.55 117.48,440.18 118.6,439.7 C119.72,439.22 120.73,438.67 121.9,438 C123.07,437.33 124.47,436.42 125.6,435.7 C126.73,434.98 127.65,434.33 128.7,433.7 C129.75,433.07 130.93,432.28 131.9,431.9 C132.87,431.52 133.67,431.33 134.5,431.4 C135.33,431.47 136.08,431.78 136.9,432.3 C137.72,432.82 138.5,433.55 139.4,434.5 C140.3,435.45 141.37,436.83 142.3,438 C143.23,439.17 144.13,440.43 145,441.5 C145.87,442.57 146.57,443.4 147.5,444.4 C148.43,445.4 149.55,446.55 150.6,447.5 C151.65,448.45 152.73,449.57 153.8,450.1 C154.87,450.63 155.63,450.57 157,450.7 C158.37,450.83 161.17,450.87 162,450.9 L162,450.9 L50.3,450.9 Z" fill="#e93c3c"/>
<line x1="50.3" y1="450.9" x2="235.6" y2="450.9" stroke="#333" stroke-width="1.1" />
<path d="M50.3,450.9 C52.75,450.88 61.4,450.87 65,450.8 C68.6,450.72 69.6,450.72 71.9,450.45 C74.2,450.18 76.78,449.54 78.8,449.2 C80.82,448.86 82.27,448.73 84,448.4 C85.73,448.07 87.47,447.63 89.2,447.2 C90.93,446.77 92.67,446.23 94.4,445.8 C96.13,445.37 97.87,445.03 99.6,444.6 C101.33,444.17 102.93,443.67 104.8,443.2 C106.67,442.73 109.07,442.18 110.8,441.8 C112.53,441.42 113.9,441.25 115.2,440.9 C116.5,440.55 117.48,440.18 118.6,439.7 C119.72,439.22 120.73,438.67 121.9,438 C123.07,437.33 124.47,436.42 125.6,435.7 C126.73,434.98 127.65,434.33 128.7,433.7 C129.75,433.07 130.93,432.28 131.9,431.9 C132.87,431.52 133.67,431.33 134.5,431.4 C135.33,431.47 136.08,431.78 136.9,432.3 C137.72,432.82 138.5,433.55 139.4,434.5 C140.3,435.45 141.37,436.83 142.3,438 C143.23,439.17 144.13,440.43 145,441.5 C145.87,442.57 146.57,443.4 147.5,444.4 C148.43,445.4 149.55,446.55 150.6,447.5 C151.65,448.45 152.73,449.57 153.8,450.1 C154.87,450.63 155.63,450.57 157,450.7 C158.37,450.83 161.17,450.87 162,450.9" fill="none" stroke="#151515" stroke-width="1.3"/>
<line x1="47.2" y1="450.9" x2="50.3" y2="450.9" stroke="#1e1e1e" stroke-width="1" />
<text x="21.1" y="454" font-size="9.01" fill="#2a2a2a" stroke="#2a2a2a" stroke-width="0.24" textLength="22.76" lengthAdjust="spacingAndGlyphs" >L281X</text>
<path d="M50.3,475.9 C52.75,475.9 61.4,475.96 65,475.9 C68.6,475.84 69.6,475.72 71.9,475.55 C74.2,475.38 76.78,475.12 78.8,474.9 C80.82,474.67 82.27,474.5 84,474.2 C85.73,473.9 87.47,473.62 89.2,473.1 C90.93,472.58 92.67,471.87 94.4,471.1 C96.13,470.33 97.87,469.43 99.6,468.5 C101.33,467.57 102.93,466.37 104.8,465.5 C106.67,464.63 109.07,463.97 110.8,463.3 C112.53,462.63 113.9,462 115.2,461.5 C116.5,461 117.48,460.67 118.6,460.3 C119.72,459.93 120.73,459.58 121.9,459.3 C123.07,459.02 124.47,458.75 125.6,458.6 C126.73,458.45 127.65,458.35 128.7,458.4 C129.75,458.45 130.82,458.38 131.9,458.9 C132.98,459.42 134.08,460.57 135.2,461.5 C136.32,462.43 137.48,463.48 138.6,464.5 C139.72,465.52 140.8,466.65 141.9,467.6 C143,468.55 144.08,469.4 145.2,470.2 C146.32,471 147.48,471.73 148.6,472.4 C149.72,473.07 150.83,473.78 151.9,474.2 C152.97,474.62 153.65,474.67 155,474.9 C156.35,475.13 158.17,475.43 160,475.6 C161.83,475.77 165,475.85 166,475.9 L166,475.9 L50.3,475.9 Z" fill="#e93c3c"/>
<line x1="50.3" y1="475.9" x2="235.6" y2="475.9" stroke="#333" stroke-width="1.1" />
<path d="M50.3,475.9 C52.75,475.9 61.4,475.96 65,475.9 C68.6,475.84 69.6,475.72 71.9,475.55 C74.2,475.38 76.78,475.12 78.8,474.9 C80.82,474.67 82.27,474.5 84,474.2 C85.73,473.9 87.47,473.62 89.2,473.1 C90.93,472.58 92.67,471.87 94.4,471.1 C96.13,470.33 97.87,469.43 99.6,468.5 C101.33,467.57 102.93,466.37 104.8,465.5 C106.67,464.63 109.07,463.97 110.8,463.3 C112.53,462.63 113.9,462 115.2,461.5 C116.5,461 117.48,460.67 118.6,460.3 C119.72,459.93 120.73,459.58 121.9,459.3 C123.07,459.02 124.47,458.75 125.6,458.6 C126.73,458.45 127.65,458.35 128.7,458.4 C129.75,458.45 130.82,458.38 131.9,458.9 C132.98,459.42 134.08,460.57 135.2,461.5 C136.32,462.43 137.48,463.48 138.6,464.5 C139.72,465.52 140.8,466.65 141.9,467.6 C143,468.55 144.08,469.4 145.2,470.2 C146.32,471 147.48,471.73 148.6,472.4 C149.72,473.07 150.83,473.78 151.9,474.2 C152.97,474.62 153.65,474.67 155,474.9 C156.35,475.13 158.17,475.43 160,475.6 C161.83,475.77 165,475.85 166,475.9" fill="none" stroke="#151515" stroke-width="1.3"/>
<line x1="47.2" y1="475.9" x2="50.3" y2="475.9" stroke="#1e1e1e" stroke-width="1" />
<text x="19.98" y="479" font-size="9.01" fill="#2a2a2a" stroke="#2a2a2a" stroke-width="0.24" textLength="23.75" lengthAdjust="spacingAndGlyphs" >A313V</text>
<path d="M50.3,500.9 C51.58,500.89 55.55,500.87 58,500.85 C60.45,500.82 62.68,500.82 65,500.75 C67.32,500.68 69.6,500.61 71.9,500.4 C74.2,500.19 76.78,499.88 78.8,499.5 C80.82,499.12 82.27,498.67 84,498.15 C85.73,497.63 87.47,497.06 89.2,496.4 C90.93,495.74 92.67,494.95 94.4,494.2 C96.13,493.45 97.87,492.57 99.6,491.9 C101.33,491.23 102.93,490.88 104.8,490.2 C106.67,489.52 109.07,488.67 110.8,487.8 C112.53,486.93 113.9,485.82 115.2,485 C116.5,484.18 117.48,483.48 118.6,482.9 C119.72,482.32 120.93,481.78 121.9,481.5 C122.87,481.22 123.58,481.2 124.4,481.2 C125.22,481.2 125.95,481.07 126.8,481.5 C127.65,481.93 128.52,482.85 129.5,483.8 C130.48,484.75 131.63,486.05 132.7,487.2 C133.77,488.35 134.82,489.53 135.9,490.7 C136.98,491.87 138.13,493.13 139.2,494.2 C140.27,495.27 141.18,496.23 142.3,497.1 C143.42,497.97 144.62,498.82 145.9,499.4 C147.18,499.98 148.48,500.35 150,500.6 C151.52,500.85 153,500.85 155,500.9 C157,500.95 160.83,500.9 162,500.9 L162,500.9 L50.3,500.9 Z" fill="#e93c3c"/>
<line x1="50.3" y1="500.9" x2="243" y2="500.9" stroke="#333" stroke-width="1.1" />
<path d="M50.3,500.9 C51.58,500.89 55.55,500.87 58,500.85 C60.45,500.82 62.68,500.82 65,500.75 C67.32,500.68 69.6,500.61 71.9,500.4 C74.2,500.19 76.78,499.88 78.8,499.5 C80.82,499.12 82.27,498.67 84,498.15 C85.73,497.63 87.47,497.06 89.2,496.4 C90.93,495.74 92.67,494.95 94.4,494.2 C96.13,493.45 97.87,492.57 99.6,491.9 C101.33,491.23 102.93,490.88 104.8,490.2 C106.67,489.52 109.07,488.67 110.8,487.8 C112.53,486.93 113.9,485.82 115.2,485 C116.5,484.18 117.48,483.48 118.6,482.9 C119.72,482.32 120.93,481.78 121.9,481.5 C122.87,481.22 123.58,481.2 124.4,481.2 C125.22,481.2 125.95,481.07 126.8,481.5 C127.65,481.93 128.52,482.85 129.5,483.8 C130.48,484.75 131.63,486.05 132.7,487.2 C133.77,488.35 134.82,489.53 135.9,490.7 C136.98,491.87 138.13,493.13 139.2,494.2 C140.27,495.27 141.18,496.23 142.3,497.1 C143.42,497.97 144.62,498.82 145.9,499.4 C147.18,499.98 148.48,500.35 150,500.6 C151.52,500.85 153,500.85 155,500.9 C157,500.95 160.83,500.9 162,500.9" fill="none" stroke="#151515" stroke-width="1.3"/>
<line x1="47.2" y1="500.9" x2="50.3" y2="500.9" stroke="#1e1e1e" stroke-width="1" />
<text x="20.55" y="504" font-size="9.01" fill="#2a2a2a" stroke="#2a2a2a" stroke-width="0.24" textLength="23.32" lengthAdjust="spacingAndGlyphs" >S706X</text>
<line x1="50.3" y1="290.7" x2="50.3" y2="501.4" stroke="#1e1e1e" stroke-width="1.1" />
<line x1="50.15" y1="500.9" x2="50.15" y2="503.7" stroke="#1e1e1e" stroke-width="1" />
<line x1="81" y1="500.9" x2="81" y2="503.7" stroke="#1e1e1e" stroke-width="1" />
<line x1="111.85" y1="500.9" x2="111.85" y2="503.7" stroke="#1e1e1e" stroke-width="1" />
<line x1="142.7" y1="500.9" x2="142.7" y2="503.7" stroke="#1e1e1e" stroke-width="1" />
<line x1="173.55" y1="500.9" x2="173.55" y2="503.7" stroke="#1e1e1e" stroke-width="1" />
<line x1="204.4" y1="500.9" x2="204.4" y2="503.7" stroke="#1e1e1e" stroke-width="1" />
<line x1="235.25" y1="500.9" x2="235.25" y2="503.7" stroke="#1e1e1e" stroke-width="1" />
<text x="78.5" y="514.7" font-size="9.31" fill="#2a2a2a" stroke="#2a2a2a" stroke-width="0.24" textLength="5" lengthAdjust="spacingAndGlyphs" >0</text>
<text x="139.79" y="514.7" font-size="9.31" fill="#2a2a2a" stroke="#2a2a2a" stroke-width="0.24" textLength="5.55" lengthAdjust="spacingAndGlyphs" >1</text>
<text x="201.78" y="514.7" font-size="9.31" fill="#2a2a2a" stroke="#2a2a2a" stroke-width="0.24" textLength="5.25" lengthAdjust="spacingAndGlyphs" >2</text>
<text x="113.5" y="527.5" font-size="9.94" fill="#2a2a2a" stroke="#2a2a2a" stroke-width="0.24" textLength="65.97" lengthAdjust="spacingAndGlyphs" >log(EGFP:mCherry)</text>
<rect x="344.6" y="320.2" width="160.8" height="37.3" fill="#ededed" />
<rect x="344.6" y="360.3" width="160.8" height="18.7" fill="#f3f3f3" />
<g filter="url(#blur1)">
<rect x="410" y="321.5" width="29" height="6" fill="#e2e2e2"/>
<rect x="350.3" y="344.6" width="20.8" height="5.4" rx="2.2" fill="#a0a0a0"/>
<rect x="351.5" y="346" width="18.5" height="2.4" rx="1.2" fill="#959595"/>
<rect x="413.2" y="335.5" width="22.2" height="21.4" fill="url(#smear)"/>
<rect x="412.5" y="326.4" width="24.6" height="11" rx="5" fill="#050505"/>
<ellipse cx="418" cy="342" rx="3" ry="3" fill="#9c9c9c"/>
<ellipse cx="428" cy="346" rx="3.5" ry="3" fill="#a2a2a2"/>
<ellipse cx="420" cy="352" rx="3" ry="2.5" fill="#aaaaaa"/>
<ellipse cx="431" cy="339" rx="2.5" ry="2" fill="#a0a0a0"/>
<rect x="446.5" y="328.4" width="20.5" height="6" rx="2.5" fill="#d6d6d6"/>
<rect x="347.2" y="370.8" width="23.6" height="7" fill="url(#tail)"/>
<rect x="347.2" y="365.8" width="23.6" height="6" rx="2.8" fill="#070707"/>
<ellipse cx="353.57" cy="369.1" rx="5.66" ry="3.3" fill="#070707"/>
<ellipse cx="364.43" cy="369.1" rx="5.66" ry="3.3" fill="#070707"/>
<rect x="379.6" y="371" width="25" height="6.5" fill="url(#tail)"/>
<rect x="379.6" y="366.2" width="25" height="5.8" rx="2.8" fill="#080808"/>
<ellipse cx="386.35" cy="369.39" rx="6" ry="3.19" fill="#080808"/>
<ellipse cx="397.85" cy="369.39" rx="6" ry="3.19" fill="#080808"/>
<rect x="412.2" y="371" width="24" height="7.5" fill="url(#tail)"/>
<rect x="412.2" y="365.8" width="24" height="6.2" rx="2.8" fill="#050505"/>
<ellipse cx="418.68" cy="369.21" rx="5.76" ry="3.41" fill="#050505"/>
<ellipse cx="429.72" cy="369.21" rx="5.76" ry="3.41" fill="#050505"/>
<rect x="445.2" y="369.8" width="25.3" height="7.5" fill="url(#tail)"/>
<rect x="445.2" y="366.6" width="25.3" height="4.2" rx="2.8" fill="#1a1a1a"/>
<ellipse cx="452.03" cy="368.91" rx="6.07" ry="2.31" fill="#1a1a1a"/>
<ellipse cx="463.67" cy="368.91" rx="6.07" ry="2.31" fill="#1a1a1a"/>
<rect x="478.3" y="370.6" width="25.3" height="7" fill="url(#tail)"/>
<rect x="478.3" y="365.6" width="25.3" height="6" rx="2.8" fill="#060606"/>
<ellipse cx="485.13" cy="368.9" rx="6.07" ry="3.3" fill="#060606"/>
<ellipse cx="496.77" cy="368.9" rx="6.07" ry="3.3" fill="#060606"/>
</g>
<text x="302.26" y="334.2" font-size="8.43" fill="#2a2a2a" stroke="#2a2a2a" stroke-width="0.18" textLength="37.83" lengthAdjust="spacingAndGlyphs" >NBN(GFP)</text>
<text x="322.49" y="349.8" font-size="8.43" fill="#2a2a2a" stroke="#2a2a2a" stroke-width="0.18" textLength="18.21" lengthAdjust="spacingAndGlyphs" >NBN</text>
<text x="312.09" y="373.2" font-size="8.28" fill="#2a2a2a" stroke="#2a2a2a" stroke-width="0.18" textLength="29.08" lengthAdjust="spacingAndGlyphs" >GADPH</text>
<text x="0" y="0" font-size="8.4" fill="#2a2a2a" stroke="#2a2a2a" stroke-width="0.24" text-anchor="end" textLength="12.37" lengthAdjust="spacingAndGlyphs" transform="translate(360.4 317.4) rotate(45)" >WT</text>
<text x="0" y="0" font-size="8.4" fill="#2a2a2a" stroke="#2a2a2a" stroke-width="0.24" text-anchor="end" textLength="27.85" lengthAdjust="spacingAndGlyphs" transform="translate(396.3 317.6) rotate(45)" >NBN–/–</text>
<text x="0" y="0" font-size="8.4" fill="#2a2a2a" stroke="#2a2a2a" stroke-width="0.24" text-anchor="end" textLength="12.37" lengthAdjust="spacingAndGlyphs" transform="translate(421.4 317.6) rotate(45)" >WT</text>
<text x="0" y="0" font-size="8.4" fill="#2a2a2a" stroke="#2a2a2a" stroke-width="0.24" text-anchor="end" textLength="22.11" lengthAdjust="spacingAndGlyphs" transform="translate(454.6 318) rotate(45)" >M152I</text>
<text x="0" y="0" font-size="8.4" fill="#2a2a2a" stroke="#2a2a2a" stroke-width="0.24" text-anchor="end" textLength="24.76" lengthAdjust="spacingAndGlyphs" transform="translate(484.8 317.8) rotate(45)" >K219fs</text>
<text x="425.68" y="289.5" font-size="8.28" fill="#2a2a2a" stroke="#2a2a2a" stroke-width="0.24" textLength="61.73" lengthAdjust="spacingAndGlyphs" >attB-NBN(var)</text>
<line x1="426.1" y1="291.2" x2="486.8" y2="291.2" stroke="#444" stroke-width="0.65" />
<rect x="348.6" y="419.3" width="107.7" height="14" fill="#80c083" />
<rect x="348.6" y="442.9" width="128.5" height="13.8" fill="#2b8a24" />
<rect x="491.1" y="442.9" width="15.6" height="13.8" fill="#2b8a24" />
<rect x="348.6" y="460.9" width="62.4" height="14.4" fill="#f17c0a" />
<rect x="348.6" y="479.8" width="1.6" height="14.4" fill="#9b1b30" />
<line x1="348.4" y1="410.3" x2="348.4" y2="501.9" stroke="#1e1e1e" stroke-width="1.1" />
<line x1="347.9" y1="501.4" x2="477.6" y2="501.4" stroke="#1e1e1e" stroke-width="1.2" />
<line x1="477.6" y1="497.4" x2="477.6" y2="505.4" stroke="#1e1e1e" stroke-width="1.1" />
<line x1="490.6" y1="497.4" x2="490.6" y2="505.4" stroke="#1e1e1e" stroke-width="1.1" />
<line x1="490.6" y1="501.4" x2="513.1" y2="501.4" stroke="#1e1e1e" stroke-width="1.2" />
<line x1="348.6" y1="501.4" x2="348.6" y2="504" stroke="#1e1e1e" stroke-width="1" />
<line x1="402.45" y1="501.4" x2="402.45" y2="504" stroke="#1e1e1e" stroke-width="1" />
<line x1="456.3" y1="501.4" x2="456.3" y2="504" stroke="#1e1e1e" stroke-width="1" />
<line x1="510" y1="501.4" x2="510" y2="503.8" stroke="#1e1e1e" stroke-width="1" />
<text x="342.57" y="514.6" font-size="9.31" fill="#2a2a2a" stroke="#2a2a2a" stroke-width="0.24" textLength="11.66" lengthAdjust="spacingAndGlyphs" >0.0</text>
<text x="396.67" y="514.6" font-size="9.31" fill="#2a2a2a" stroke="#2a2a2a" stroke-width="0.24" textLength="11.68" lengthAdjust="spacingAndGlyphs" >0.5</text>
<text x="450.14" y="514.6" font-size="9.31" fill="#2a2a2a" stroke="#2a2a2a" stroke-width="0.24" textLength="11.99" lengthAdjust="spacingAndGlyphs" >1.0</text>
<text x="488.3" y="514.6" font-size="9.31" fill="#2a2a2a" stroke="#2a2a2a" stroke-width="0.24" textLength="5.04" lengthAdjust="spacingAndGlyphs" >3</text>
<text x="507.48" y="514.6" font-size="9.31" fill="#2a2a2a" stroke="#2a2a2a" stroke-width="0.24" textLength="5.18" lengthAdjust="spacingAndGlyphs" >6</text>
<text x="390.19" y="527.5" font-size="10.4" fill="#2a2a2a" stroke="#2a2a2a" stroke-width="0.24" textLength="80.28" lengthAdjust="spacingAndGlyphs" >Fold change to NBN WT</text>
<line x1="345.4" y1="426.3" x2="348.4" y2="426.3" stroke="#1e1e1e" stroke-width="1" />
<text x="309.22" y="428.55" font-size="7.99" fill="#2a2a2a" stroke="#2a2a2a" stroke-width="0.24" textLength="32.77" lengthAdjust="spacingAndGlyphs" >NBN WT</text>
<line x1="345.4" y1="449.8" x2="348.4" y2="449.8" stroke="#1e1e1e" stroke-width="1" />
<text x="330.07" y="452.05" font-size="7.99" fill="#2a2a2a" stroke="#2a2a2a" stroke-width="0.24" textLength="11.91" lengthAdjust="spacingAndGlyphs" >WT</text>
<line x1="345.4" y1="468.1" x2="348.4" y2="468.1" stroke="#1e1e1e" stroke-width="1" />
<text x="318.39" y="470.35" font-size="7.99" fill="#2a2a2a" stroke="#2a2a2a" stroke-width="0.24" textLength="24.22" lengthAdjust="spacingAndGlyphs" >M152I</text>
<line x1="345.4" y1="486.6" x2="348.4" y2="486.6" stroke="#1e1e1e" stroke-width="1" />
<text x="317.35" y="488.85" font-size="7.99" fill="#2a2a2a" stroke="#2a2a2a" stroke-width="0.24" textLength="24.74" lengthAdjust="spacingAndGlyphs" >K219fs</text>
<text x="-0.32" y="0" font-size="9.8" fill="#2a2a2a" stroke="#2a2a2a" stroke-width="0.24" textLength="46.68" lengthAdjust="spacingAndGlyphs" transform="translate(311.8 491.3) rotate(-90)" >attB-NBN(var)</text>
<line x1="312.7" y1="445.4" x2="312.7" y2="491.3" stroke="#2a2a2a" stroke-width="0.6" />
<rect x="0.5" y="0.5" width="519" height="536" fill="none" stroke="#5c5c5c" stroke-width="1"/>
</svg>
</body></html>
